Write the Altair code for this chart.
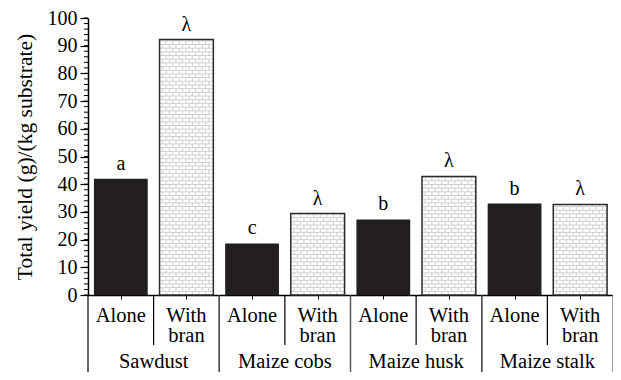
import altair as alt
import pandas as pd

groups = ["Sawdust", "Sawdust", "Maize cobs", "Maize cobs",
          "Maize husk", "Maize husk", "Maize stalk", "Maize stalk"]
treatments = ["Alone", "With bran"] * 4
tick_labels = ["Alone", "With\nbran"] * 4
values = [42.0, 92.2, 18.6, 29.4, 27.3, 42.8, 33.0, 32.7]
letters = ["a", "λ", "c", "λ", "b", "λ", "b", "λ"]
y_ticks = [0, 10, 20, 30, 40, 50, 60, 70, 80, 90, 100]

FONT = "Liberation Serif"
W, H = 525, 277

df = pd.DataFrame({"group": groups, "treatment": treatments, "label": tick_labels,
                   "value": values, "letter": letters})

xs = alt.Scale(domain=[0, 8], nice=False, zero=False)
ys = alt.Scale(domain=[0, 100], nice=False)

AX_X = alt.Axis(values=[0.5, 1.5, 2.5, 3.5, 4.5, 5.5, 6.5, 7.5], labels=False,
                tickSize=4, tickColor="black", domainColor="black",
                domainWidth=1.5, grid=False, title=None)
AX_Y = alt.Axis(values=y_ticks, tickSize=8, tickColor="black",
                tickWidth=1.2, domainColor="black", domainWidth=1.5,
                labelFontSize=20, labelColor="black", labelPadding=3,
                labelOverlap=False, labelFont=FONT, titleFont=FONT,
                title="Total yield (g)/(kg substrate)", titleFontSize=21.5,
                titleFontWeight="normal", titleColor="black", titlePadding=11,
                grid=False)


def X(field):
    return alt.X(field, scale=xs, axis=AX_X)


def Y(field):
    return alt.Y(field, scale=ys, axis=AX_Y)


base = alt.Chart(df).transform_window(idx="row_number()").transform_calculate(
    slot="datum.idx - 1",
    x0="datum.idx - 1 + 0.09",
    x1="datum.idx - 1 + 0.91",
    xc="datum.idx - 0.5",
)

bars = base.mark_bar(strokeWidth=0).encode(
    x=X("x0:Q"), x2="x1:Q", y=Y("value:Q"), y2=alt.datum(0),
    fill=alt.Fill("treatment:N", scale=alt.Scale(domain=["Alone", "With bran"],
                                                 range=["#231f20", "#ffffff"]), legend=None),
)

bran = base.transform_filter("datum.treatment == 'With bran'")

rows = bran.transform_calculate(r="sequence(1.33, datum.value, 1.33)").transform_flatten(
    ["r"]).mark_rule(color="#c4c4c4", strokeWidth=0.8).encode(
    x=X("x0:Q"), x2="x1:Q", y=Y("r:Q"))

joints = bran.transform_calculate(r="sequence(0, datum.value, 1.33)").transform_flatten(
    ["r"]).transform_calculate(
    k="round(datum.r / 1.33)",
    j="sequence(datum.x0 + 0.1 - (datum.k % 2) * 0.05, datum.x1 - 0.02, 0.1)",
    rtop="min(datum.r + 1.33, datum.value)",
).transform_flatten(["j"]).mark_rule(color="#c4c4c4", strokeWidth=0.8).encode(
    x=X("j:Q"), y=Y("r:Q"), y2="rtop:Q")

outline = bran.mark_bar(fillOpacity=0, stroke="#2a2a2a", strokeWidth=1.5).encode(
    x=X("x0:Q"), x2="x1:Q", y=Y("value:Q"), y2=alt.datum(0))

minor = alt.Chart(alt.sequence(0, 101, 2, as_="t")).mark_rule(
    color="black", strokeWidth=1).encode(
    y=Y("t:Q"), x=alt.value(-4), x2=alt.value(0))

marks = base.mark_text(fontSize=20, font=FONT, baseline="alphabetic", dy=-9,
                       color="black").encode(
    x=X("xc:Q"), y=Y("value:Q"), text="letter:N")

sep_short = bran.mark_rule(color="black", strokeWidth=1.2).encode(
    x=X("slot:Q"), y=alt.value(H), y2=alt.value(H + 50))

sep_long_l = base.transform_filter("datum.treatment == 'Alone'").mark_rule(
    color="black", strokeWidth=1.2).encode(
    x=X("slot:Q"), y=alt.value(H), y2=alt.value(H + 80))

sep_long_r = bran.transform_calculate(xr="datum.slot + 1").mark_rule(
    color="#555555", strokeWidth=1.2).encode(
    x=X("xr:Q"), y=alt.value(H), y2=alt.value(H + 80))

tlabels = base.mark_text(fontSize=20.5, font=FONT, baseline="alphabetic", lineBreak="\n",
                         lineHeight=20, color="black").encode(
    x=X("xc:Q"), y=alt.value(H + 27), text="label:N")

glabels = base.transform_filter("datum.treatment == 'Alone'").transform_calculate(
    gx="datum.slot + 1").mark_text(fontSize=20.5, font=FONT, baseline="alphabetic",
                                   color="black").encode(
    x=X("gx:Q"), y=alt.value(H + 73), text="group:N")

chart = alt.layer(bars, rows, joints, outline, minor, marks, sep_short, sep_long_l,
                  sep_long_r, tlabels, glabels).properties(
    width=W, height=H,
    padding={"left": 80, "top": 10, "right": 0, "bottom": 77},
    autosize=alt.AutoSizeParams(type="none"),
).configure(font=FONT).configure_axis(labelOverlap=False).configure_view(stroke=None)

chart.save("out.html", embed_options={"renderer": "svg", "actions": False})
